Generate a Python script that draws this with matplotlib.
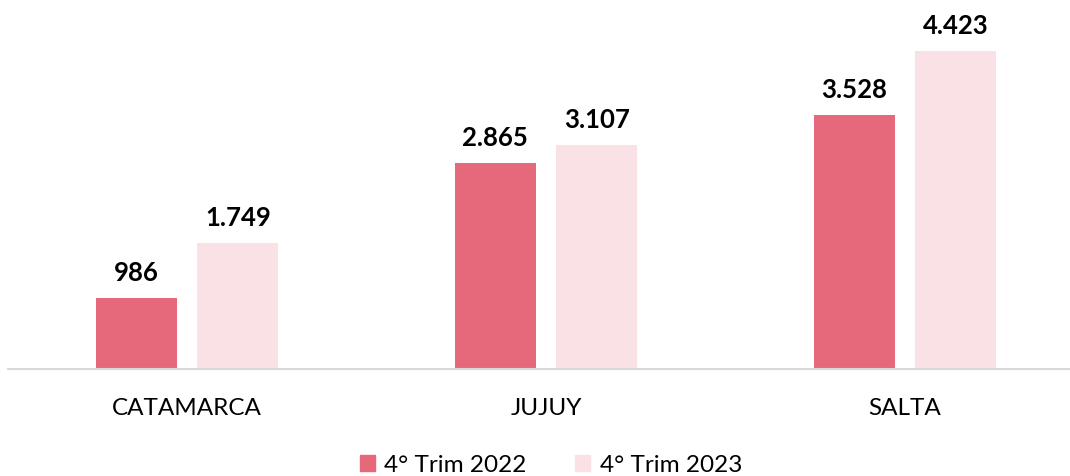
import numpy as np
import matplotlib.pyplot as plt
from matplotlib.patches import Patch

provincias = ['CATAMARCA', 'JUJUY', 'SALTA']
series = ['4° Trim 2022', '4° Trim 2023']
valores_2022 = [986, 2865, 3528]
valores_2023 = [1749, 3107, 4423]

COLOR_2022 = '#E5697A'
COLOR_2023 = '#F9E1E5'

plt.rcParams['font.family'] = ['Lato', 'DejaVu Sans']


def fmt_miles(v):
    return f'{v:,}'.replace(',', '.')


fig = plt.figure(figsize=(10.70, 4.77), dpi=100)
ax = fig.add_axes([8 / 1070, 107 / 477, 1062 / 1070, 360 / 477])

x = np.arange(len(provincias))
ancho = 0.225
desp = (ancho + 0.058) / 2

b1 = ax.bar(x - desp, valores_2022, width=ancho, color=COLOR_2022)
b2 = ax.bar(x + desp, valores_2023, width=ancho, color=COLOR_2023)

for barras, vals in ((b1, valores_2022), (b2, valores_2023)):
    for rect, v in zip(barras, vals):
        ax.annotate(fmt_miles(v), (rect.get_x() + rect.get_width() / 2, v),
                    xytext=(0, 10), textcoords='offset points',
                    ha='center', va='bottom', fontsize=18.5, fontweight='bold')

ax.set_xlim(-0.4986, 2.4596)
ax.set_ylim(0, 5000)
ax.set_xticks(x)
ax.set_xticklabels(provincias, fontsize=17.5)
ax.tick_params(axis='x', length=0, pad=20)
ax.set_yticks([])
for s in ['top', 'right', 'left']:
    ax.spines[s].set_visible(False)
ax.spines['bottom'].set_color('#D9D9D9')
ax.spines['bottom'].set_linewidth(1.5)

handles = [Patch(color=COLOR_2022), Patch(color=COLOR_2023)]
fig.legend(handles, series, loc='center', bbox_to_anchor=(551 / 1070, 1 - 466 / 477),
           ncol=2, frameon=False, fontsize=17.5, handlelength=0.6, handleheight=0.6,
           handletextpad=0.4, columnspacing=2.0)

fig.savefig('out.png', dpi=100)
plt.close(fig)
